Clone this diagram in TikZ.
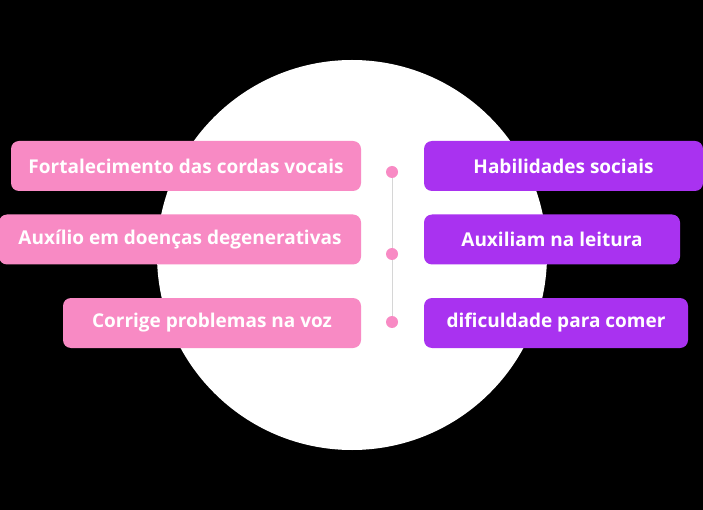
\documentclass[tikz,border=0pt]{standalone}
\usepackage{fontspec}
\setmainfont{Open Sans}
\definecolor{rosa}{HTML}{F88AC4}
\definecolor{roxo}{HTML}{A932F0}
\definecolor{linha}{HTML}{D6D6D6}
\begin{document}
\begin{tikzpicture}[x=1pt, y=-1pt, font=\fontsize{19}{22}\selectfont\bfseries,
  caixa/.style={rounded corners=8pt, text=white, inner sep=0pt, minimum height=50pt},
  ponto/.style={circle, fill=rosa, minimum size=12pt, inner sep=0pt}]
  \useasboundingbox (0,0) rectangle (703,510);
  \fill[black] (0,0) rectangle (703,510);
  \fill[white] (352,255) circle[radius=195pt];
  % left column
  \node[caixa, fill=rosa, minimum width=350pt] (forta) at (186,166) {Fortalecimento das cordas vocais};
  \node[caixa, fill=rosa, minimum width=362pt] (auxd) at (180,239.5) {Auxílio em doenças degenerativas};
  \node[caixa, fill=rosa, minimum width=298pt] (corr) at (212,323) {Corrige problemas na voz};
  % right column
  \node[caixa, fill=roxo, minimum width=279pt] (habi) at (563.5,166) {Habilidades sociais};
  \node[caixa, fill=roxo, minimum width=256pt] (leit) at (552,239.5) {Auxiliam na leitura};
  \node[caixa, fill=roxo, minimum width=264pt] (come) at (556,323) {dificuldade para comer};
  % timeline
  \node[ponto] (p1) at (392,172) {};
  \node[ponto] (p2) at (392,254) {};
  \node[ponto] (p3) at (392,322) {};
  \draw[linha, line width=1pt] (p1) -- (p2);
  \draw[linha, line width=1pt] (p2) -- (p3);
\end{tikzpicture}
\end{document}
